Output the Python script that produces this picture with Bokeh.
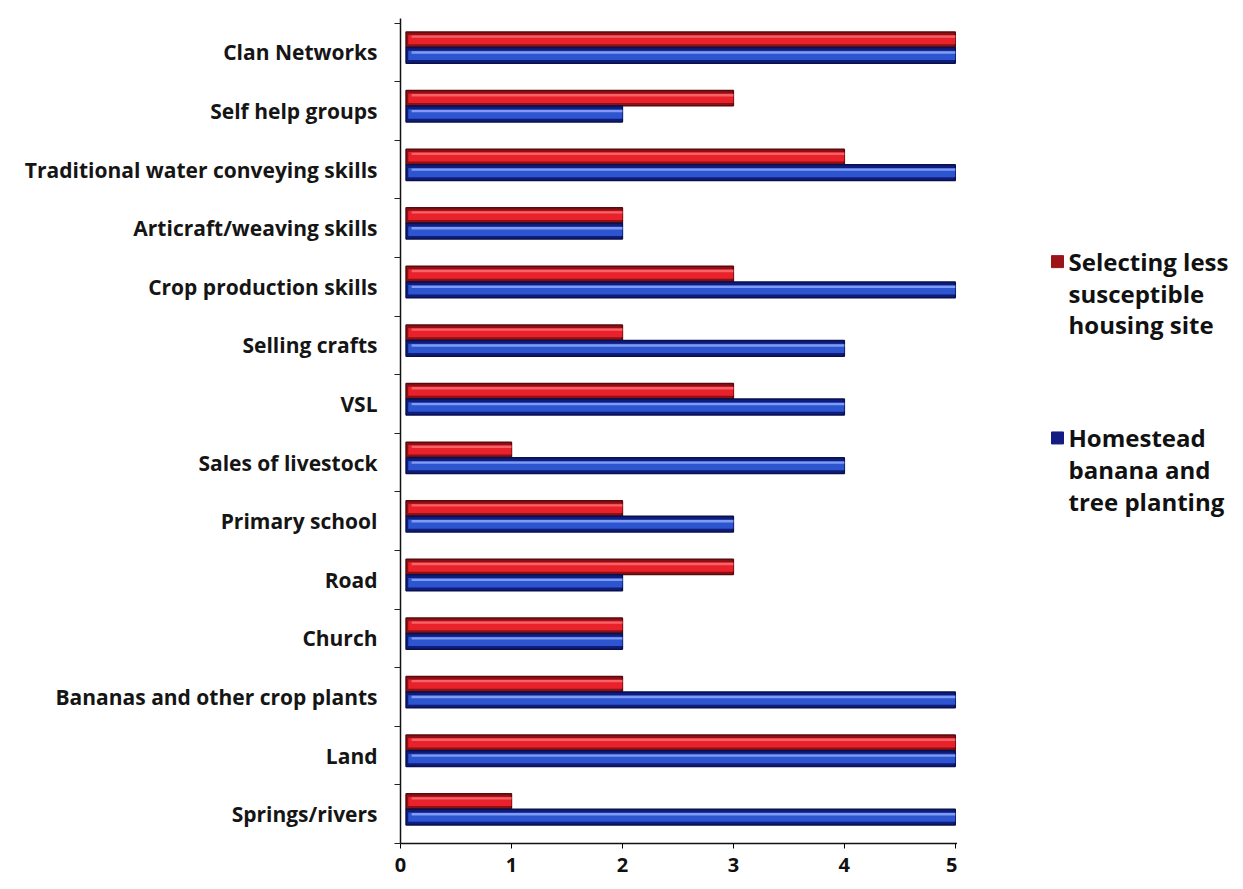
from bokeh.plotting import figure
from bokeh.models import Range1d, FixedTicker, ColumnDataSource
from bokeh.layouts import row
from bokeh.embed import file_html
from bokeh.resources import INLINE
from bokeh.core.properties import value

categories = [
    "Clan Networks",
    "Self help groups",
    "Traditional water conveying skills",
    "Articraft/weaving skills",
    "Crop production skills",
    "Selling crafts",
    "VSL",
    "Sales of livestock",
    "Primary school",
    "Road",
    "Church",
    "Bananas and other crop plants",
    "Land",
    "Springs/rivers",
]
housing_site = [5, 3, 4, 2, 3, 2, 3, 1, 2, 3, 2, 2, 5, 1]
banana_tree = [5, 2, 5, 2, 5, 4, 4, 4, 3, 2, 2, 5, 5, 5]
series_names = ["Selecting less\nsusceptible\nhousing site",
                "Homestead\nbanana and\ntree planting"]
x_ticks = [0, 1, 2, 3, 4, 5]

FONT = "Open Sans"
n = len(categories)
ypos = [n - 1 - i for i in range(n)]

PW = 957
p = figure(width=PW, height=889, output_backend="svg", toolbar_location=None,
           x_range=Range1d(0, 5.02), y_range=Range1d(-0.5, n - 0.42),
           min_border_left=400, min_border_right=0, min_border_top=18,
           min_border_bottom=46)
p.outline_line_color = None
p.xgrid.grid_line_color = None
p.ygrid.grid_line_color = None
p.background_fill_color = "white"

red_y = [y + 0.22 for y in ypos]
blue_y = [y - 0.05 for y in ypos]
src_r = ColumnDataSource(dict(y=red_y, v=housing_site, hl=[y + 0.05 for y in red_y]))
src_b = ColumnDataSource(dict(y=blue_y, v=banana_tree, hl=[y + 0.05 for y in blue_y]))

p.hbar(y="y", left=0.05, right="v", height=0.26, source=src_r,
       fill_color="#8e1014", line_color="#5a0a0c", line_width=1.5)
p.hbar(y="y", left=0.07, right="v", height=0.16, source=src_r,
       fill_color="#e8212b", line_color=None)
p.hbar(y="hl", left=0.1, right="v", height=0.04, source=src_r,
       fill_color="#f4636a", line_color=None)

p.hbar(y="y", left=0.05, right="v", height=0.27, source=src_b,
       fill_color="#0f1c7a", line_color="#08104e", line_width=1.5)
p.hbar(y="y", left=0.07, right="v", height=0.16, source=src_b,
       fill_color="#2d55d0", line_color=None)
p.hbar(y="hl", left=0.1, right="v", height=0.04, source=src_b,
       fill_color="#7f9cf2", line_color=None)

p.yaxis.ticker = FixedTicker(ticks=ypos,
                             minor_ticks=[y - 0.5 for y in ypos] + [n - 0.5])
p.yaxis.major_label_overrides = {y: c for y, c in zip(ypos, categories)}
p.yaxis.major_tick_line_color = None
p.yaxis.minor_tick_out = 6
p.yaxis.minor_tick_in = 0
p.yaxis.minor_tick_line_color = "#222222"
p.yaxis.axis_line_color = "#111111"
p.yaxis.axis_line_width = 1.5
p.yaxis.major_label_standoff = 17
p.yaxis.major_label_text_font = FONT
p.yaxis.major_label_text_font_size = "21px"
p.yaxis.major_label_text_font_style = "bold"
p.yaxis.major_label_text_color = "#151515"

p.xaxis.ticker = FixedTicker(ticks=x_ticks)
p.xaxis.major_tick_out = 5
p.xaxis.major_tick_in = 0
p.xaxis.minor_tick_line_color = None
p.xaxis.axis_line_color = "#111111"
p.xaxis.axis_line_width = 1.5
p.xaxis.major_label_standoff = 9
p.xaxis.major_label_text_font = FONT
p.xaxis.major_label_text_font_size = "20px"
p.xaxis.major_label_text_font_style = "bold"
p.xaxis.major_label_text_color = "#111111"

LW = 1243 - PW
leg = figure(width=LW, height=889, output_backend="svg", toolbar_location=None,
             x_range=Range1d(PW, 1243), y_range=Range1d(889, 0),
             min_border=0)
leg.axis.visible = False
leg.grid.visible = False
leg.outline_line_color = None

leg_colors = ["#9b1418", "#141c82"]
leg_top = [262, 452]
sq_x, sq_y, tx, ty, tt = [], [], [], [], []
for name, top in zip(series_names, leg_top):
    sq_x.append(1057)
    sq_y.append(top)
    for k, line in enumerate(name.split("\n")):
        tx.append(1068)
        ty.append(top + k * 34)
        tt.append(line)
leg.scatter(x=sq_x, y=sq_y, marker="square", size=12, fill_color=leg_colors,
            line_color=leg_colors)
leg.text(x=tx, y=ty, text=tt, text_font=value(FONT), text_font_size="24px",
         text_font_style="bold", text_baseline="middle", text_align="left",
         text_color="#111111")

layout = row(p, leg)
open("out.html", "w").write(file_html(layout, INLINE))
